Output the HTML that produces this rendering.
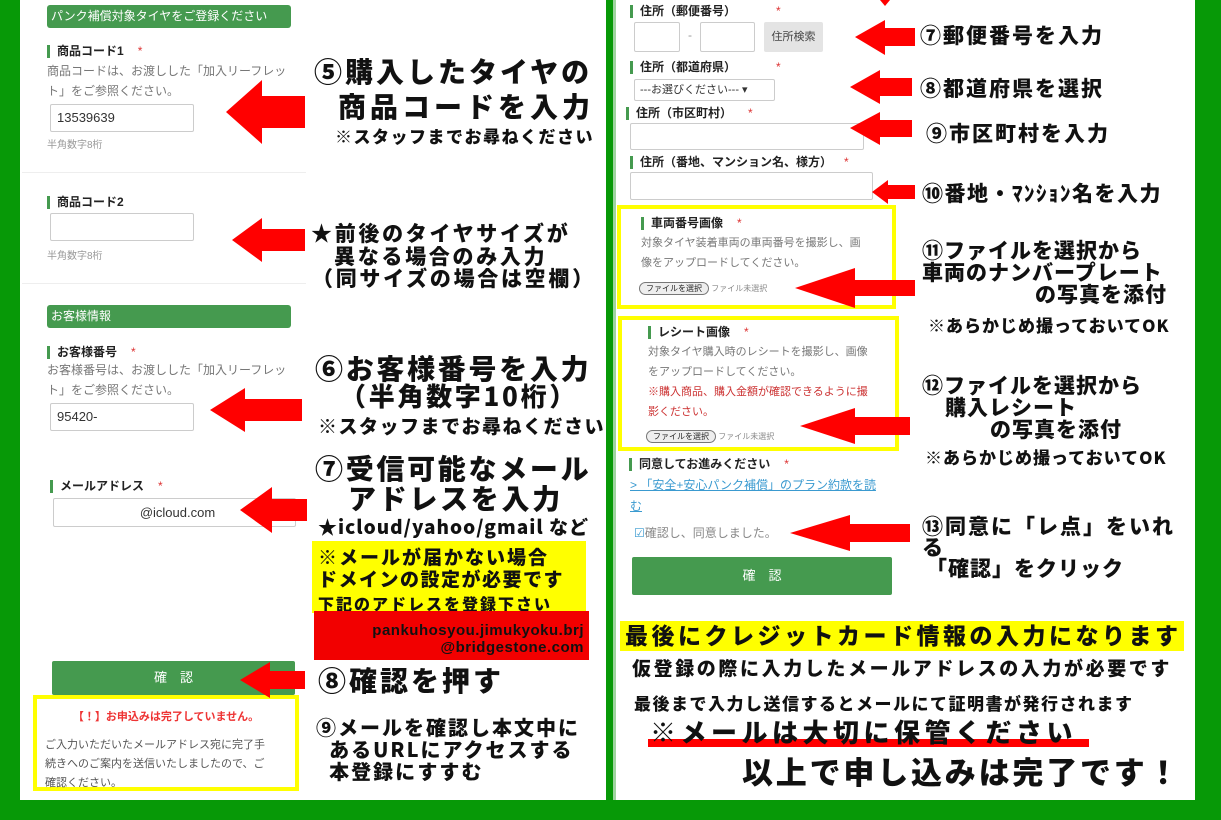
<!DOCTYPE html>
<html><head><meta charset="utf-8"><style>
*{margin:0;padding:0;box-sizing:border-box}
body{width:1221px;height:820px;background:#079907;position:relative;overflow:hidden;font-family:"Liberation Sans","Noto Sans CJK JP",sans-serif}
.a{position:absolute;white-space:nowrap}
.pl{position:absolute;background:#fff}
.hd{position:absolute;background:#459a4f;color:#fff;font-size:12px;border-radius:3px;padding-left:4px;line-height:23px}
.lb{position:absolute;font-size:12px;font-weight:bold;color:#222;border-left:3px solid #459a4f;padding-left:7px;line-height:13px;white-space:nowrap}
.lb i{color:#d33;font-style:normal;margin-left:14px;font-weight:normal}
.ds{position:absolute;font-size:12px;color:#777;line-height:19.5px}
.in{position:absolute;border:1px solid #ccc;background:#fff;font-size:13px;color:#333;padding-left:6px;border-radius:2px}
.sm{position:absolute;font-size:10px;color:#999}
.big{position:absolute;white-space:nowrap;font-family:"Noto Sans CJK JP",sans-serif;font-weight:900;color:#111;line-height:1;letter-spacing:2.7px}
.btn{position:absolute;background:#459a4f;color:#fff;font-size:13px;text-align:center;border-radius:2px}
.yb{position:absolute;border:4px solid #ffff00;background:#fff}
.fb{display:inline-block;border:1px solid #777;border-radius:8px;font-size:8px;padding:0 6px;background:#eee;color:#222;line-height:11px}
</style></head><body>
<div class="pl" style="left:20px;top:0;width:586px;height:800px"></div>
<div class="pl" style="left:613px;top:0;width:582px;height:800px;border-left:3px solid #9fd49f"></div>

<div class="hd" style="left:47px;top:5px;width:244px">パンク補償対象タイヤをご登録ください</div>
<div class="lb" style="left:47px;top:45px">商品コード1<i>*</i></div>
<div class="ds" style="left:47px;top:62px">商品コードは、お渡しした「加入リーフレッ<br>ト」をご参照ください。</div>
<div class="in" style="left:50px;top:104px;width:144px;height:28px;line-height:26px">13539639</div>
<div class="sm" style="left:47px;top:136px">半角数字8桁</div>
<div class="a" style="left:22px;top:172px;width:284px;height:1px;background:#eee"></div>
<div class="lb" style="left:47px;top:196px">商品コード2</div>
<div class="in" style="left:50px;top:213px;width:144px;height:28px"></div>
<div class="sm" style="left:47px;top:247px">半角数字8桁</div>
<div class="a" style="left:22px;top:283px;width:284px;height:1px;background:#eee"></div>
<div class="hd" style="left:47px;top:305px;width:244px">お客様情報</div>
<div class="lb" style="left:47px;top:346px">お客様番号<i>*</i></div>
<div class="ds" style="left:47px;top:361px">お客様番号は、お渡しした「加入リーフレッ<br>ト」をご参照ください。</div>
<div class="in" style="left:50px;top:403px;width:144px;height:28px;line-height:26px">95420-</div>
<div class="lb" style="left:50px;top:480px">メールアドレス<i>*</i></div>
<div class="in" style="left:53px;top:498px;width:243px;height:29px;line-height:27px;text-align:center">@icloud.com</div>
<div class="btn" style="left:52px;top:661px;width:243px;height:34px;line-height:34px">確　認</div>
<div class="yb" style="left:33px;top:695px;width:266px;height:96px">
<div style="color:#e33;font-size:11px;font-weight:bold;text-align:center;margin-top:9px">【！】お申込みは完了していません。</div>
<div style="color:#555;font-size:11px;line-height:19px;margin:12px 0 0 8px">ご入力いただいたメールアドレス宛に完了手<br>続きへのご案内を送信いたしましたので、ご<br>確認ください。</div></div>

<div class="big" style="left:314px;top:57px;font-size:28px;letter-spacing:3px">⑤購入したタイヤの</div>
<div class="big" style="left:338px;top:92px;font-size:28px;letter-spacing:4px">商品コードを入力</div>
<div class="big" style="left:335px;top:127px;font-size:17px;letter-spacing:1.5px">※スタッフまでお尋ねください</div>
<div class="big" style="left:311px;top:223px;font-size:21px">★前後のタイヤサイズが</div>
<div class="big" style="left:334px;top:246px;font-size:21px">異なる場合のみ入力</div>
<div class="big" style="left:312px;top:268px;font-size:21px">（同サイズの場合は空欄）</div>
<div class="big" style="left:315px;top:354px;font-size:28px">⑥お客様番号を入力</div>
<div class="big" style="left:340px;top:383px;font-size:26px">（半角数字10桁）</div>
<div class="big" style="left:318px;top:416px;font-size:19px;letter-spacing:1.5px">※スタッフまでお尋ねください</div>
<div class="big" style="left:315px;top:454px;font-size:28px">⑦受信可能なメール</div>
<div class="big" style="left:348px;top:484px;font-size:28px">アドレスを入力</div>
<div class="big" style="left:318px;top:517px;font-size:19px;letter-spacing:1px">★icloud/yahoo/gmail など</div>
<div class="a" style="left:312px;top:541px;width:274px;height:72px;background:#ffff00"></div>
<div class="big" style="left:318px;top:547px;font-size:19px;letter-spacing:2px">※メールが届かない場合</div>
<div class="big" style="left:318px;top:569px;font-size:19px;letter-spacing:1.5px">ドメインの設定が必要です</div>
<div class="big" style="left:318px;top:595px;font-size:16px;letter-spacing:2px">下記のアドレスを登録下さい</div>
<div class="a" style="left:314px;top:611px;width:275px;height:49px;background:#f20000"></div>
<div class="big" style="left:318px;top:622px;width:266px;text-align:right;font-size:15px;font-family:'Liberation Sans',sans-serif;font-weight:bold;line-height:17px;letter-spacing:0.5px">pankuhosyou.jimukyoku.brj<br>@bridgestone.com</div>
<div class="big" style="left:318px;top:666px;font-size:28px;letter-spacing:3px">⑧確認を押す</div>
<div class="big" style="left:316px;top:716px;font-size:20px;line-height:22px;letter-spacing:2px">⑨メールを確認し本文中に<br>&nbsp;&nbsp;あるURLにアクセスする<br>&nbsp;&nbsp;本登録にすすむ</div>

<div class="lb" style="left:630px;top:5px">住所（郵便番号）<i style="margin-left:40px">*</i></div>
<div class="in" style="left:634px;top:22px;width:46px;height:30px"></div>
<div class="a" style="left:688px;top:28px;color:#999;font-size:12px">-</div>
<div class="in" style="left:700px;top:22px;width:55px;height:30px"></div>
<div class="a" style="left:764px;top:22px;width:59px;height:30px;background:#e4e4e4;border-radius:2px;font-size:11px;color:#444;text-align:center;line-height:30px">住所検索</div>
<div class="lb" style="left:630px;top:61px">住所（都道府県）<i style="margin-left:40px">*</i></div>
<div class="in" style="left:634px;top:79px;width:141px;height:22px;line-height:20px;font-size:11px;padding-left:5px">---お選びください--- ▾</div>
<div class="lb" style="left:626px;top:107px">住所（市区町村）<i style="margin-left:16px">*</i></div>
<div class="in" style="left:630px;top:123px;width:234px;height:27px"></div>
<div class="lb" style="left:630px;top:156px">住所（番地、マンション名、様方）<i style="margin-left:12px">*</i></div>
<div class="in" style="left:630px;top:172px;width:243px;height:28px"></div>
<div class="yb" style="left:617px;top:205px;width:279px;height:104px">
<div class="lb" style="position:relative;left:20px;top:8px">車両番号画像<i>*</i></div>
<div style="color:#777;font-size:11px;line-height:20px;margin:11px 0 0 20px">対象タイヤ装着車両の車両番号を撮影し、画<br>像をアップロードしてください。</div>
<div style="margin:9px 0 0 18px;font-size:8px;color:#888"><span class="fb">ファイルを選択</span> ファイル未選択</div></div>
<div class="yb" style="left:618px;top:316px;width:281px;height:135px">
<div class="lb" style="position:relative;left:26px;top:6px">レシート画像<i>*</i></div>
<div style="color:#777;font-size:11px;line-height:20px;margin:9px 0 0 26px">対象タイヤ購入時のレシートを撮影し、画像<br>をアップロードしてください。<br><span style="color:#c33">※購入商品、購入金額が確認できるように撮<br>影ください。</span></div>
<div style="margin:8px 0 0 24px;font-size:8px;color:#888"><span class="fb">ファイルを選択</span> ファイル未選択</div></div>
<div class="lb" style="left:629px;top:458px">同意してお進みください<i>*</i></div>
<div class="a" style="left:630px;top:475px;font-size:12px;color:#3a9ad0;text-decoration:underline;line-height:21px">&gt; 「安全+安心パンク補償」のプラン約款を読<br>む</div>
<div class="a" style="left:634px;top:524px;font-size:12px;color:#888"><span style="color:#3a9ad0">☑</span>確認し、同意しました。</div>
<div class="btn" style="left:632px;top:557px;width:260px;height:38px;line-height:38px">確　認</div>

<div class="big" style="left:920px;top:25px;font-size:21px;letter-spacing:2px">⑦郵便番号を入力</div>
<div class="big" style="left:920px;top:78px;font-size:21px;letter-spacing:2px">⑧都道府県を選択</div>
<div class="big" style="left:926px;top:123px;font-size:21px;letter-spacing:2px">⑨市区町村を入力</div>
<div class="big" style="left:922px;top:183px;font-size:21px;letter-spacing:1.5px">⑩番地・ﾏﾝｼｮﾝ名を入力</div>
<div class="big" style="left:922px;top:240px;font-size:21px;letter-spacing:1px">⑪ファイルを選択から</div>
<div class="big" style="left:922px;top:262px;font-size:21px;letter-spacing:1px">車両のナンバープレート</div>
<div class="big" style="left:1035px;top:284px;font-size:21px;letter-spacing:1px">の写真を添付</div>
<div class="big" style="left:928px;top:316px;font-size:17px;letter-spacing:1px">※あらかじめ撮っておいてOK</div>
<div class="big" style="left:922px;top:375px;font-size:21px;letter-spacing:1px">⑫ファイルを選択から</div>
<div class="big" style="left:945px;top:397px;font-size:21px;letter-spacing:1px">購入レシート</div>
<div class="big" style="left:990px;top:419px;font-size:21px;letter-spacing:1px">の写真を添付</div>
<div class="big" style="left:925px;top:448px;font-size:17px;letter-spacing:1px">※あらかじめ撮っておいてOK</div>
<div class="big" style="left:922px;top:516px;font-size:21px;letter-spacing:2px">⑬同意に「レ点」をいれ</div>
<div class="big" style="left:922px;top:537px;font-size:21px">る</div>
<div class="big" style="left:926px;top:558px;font-size:21px;letter-spacing:1px">「確認」をクリック</div>

<div class="a" style="left:620px;top:621px;width:564px;height:30px;background:#ffff00"></div>
<div class="big" style="left:625px;top:623px;font-size:23px;letter-spacing:3.5px">最後にクレジットカード情報の入力になります</div>
<div class="big" style="left:632px;top:658px;font-size:19px;letter-spacing:2.6px">仮登録の際に入力したメールアドレスの入力が必要です</div>
<div class="big" style="left:634px;top:694px;font-size:17px;letter-spacing:1.5px">最後まで入力し送信するとメールにて証明書が発行されます</div>
<div class="a" style="left:648px;top:739px;width:441px;height:8px;background:#f00"></div>
<div class="big" style="left:650px;top:719px;font-size:26px;letter-spacing:4.5px">※メールは大切に保管ください</div>
<div class="big" style="left:742px;top:755px;font-size:31px;letter-spacing:2.8px">以上で申し込みは完了です！</div>

<svg class="a" style="left:0;top:0" width="1221" height="820">
<g fill="#f00">
<polygon points="226,112 262,80 262,96 305,96 305,128 262,128 262,144"/>
<polygon points="232,240 262,218 262,229 305,229 305,251 262,251 262,262"/>
<polygon points="210,410 245,388 245,399 302,399 302,421 245,421 245,432"/>
<polygon points="240,510 272,487 272,499 307,499 307,521 272,521 272,533"/>
<polygon points="240,680 270,662 270,671 305,671 305,689 270,689 270,698"/>
<polygon points="855,37 885,20 885,28 915,28 915,46 885,46 885,55"/>
<polygon points="850,87 880,70 880,78 912,78 912,96 880,96 880,104"/>
<polygon points="850,128 880,112 880,120 912,120 912,137 880,137 880,145"/>
<polygon points="872,192 888,180 888,185 915,185 915,199 888,199 888,204"/>
<polygon points="795,288 855,268 855,280 915,280 915,296 855,296 855,308"/>
<polygon points="800,426 855,408 855,417 910,417 910,435 855,435 855,444"/>
<polygon points="790,533 850,515 850,524 910,524 910,542 850,542 850,551"/>
<polygon points="880,0 890,0 885,6"/>
</g></svg>
</body></html>
